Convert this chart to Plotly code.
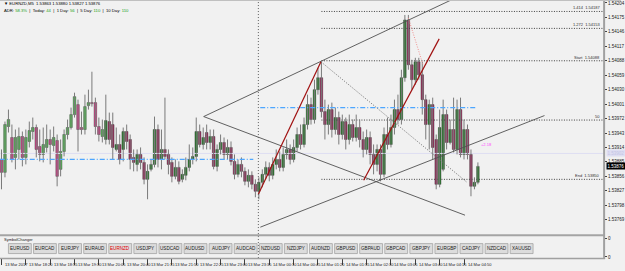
import plotly.graph_objects as go

# ---------------- data (EURNZD, M5) ----------------
O = [1.53890, 1.53864, 1.53956, 1.53934, 1.53894, 1.53910, 1.53936, 1.53894, 1.53926, 1.53946,
     1.53954, 1.53916, 1.53900, 1.53914, 1.53930, 1.53918, 1.53928, 1.53870, 1.53906, 1.53940,
     1.53954, 1.53980, 1.54000, 1.53954, 1.53950, 1.53998, 1.54004, 1.54004, 1.53956, 1.53936,
     1.53930, 1.53966, 1.53960, 1.53910, 1.53920, 1.53910, 1.53946, 1.53930, 1.53894, 1.53880,
     1.53900, 1.53884, 1.53850, 1.53870, 1.53880, 1.53950, 1.53890, 1.53910, 1.53900, 1.53884,
     1.53856, 1.53874, 1.53850, 1.53858, 1.53874, 1.53890, 1.53896, 1.53946, 1.53920, 1.53944,
     1.53924, 1.53936, 1.53876, 1.53910, 1.53924, 1.53900, 1.53914, 1.53886, 1.53860, 1.53880,
     1.53866, 1.53846, 1.53858, 1.53840, 1.53826, 1.53844, 1.53860, 1.53874, 1.53858, 1.53880,
     1.53890, 1.53874, 1.53900, 1.53910, 1.53890, 1.53914, 1.53940, 1.53920, 1.53960, 1.54000,
     1.53970, 1.54030, 1.54054, 1.53986, 1.53960, 1.53990, 1.53950, 1.53974, 1.53940, 1.53966,
     1.53930, 1.53960, 1.53934, 1.53954, 1.53930, 1.53910, 1.53934, 1.53900, 1.53880, 1.53910,
     1.53860, 1.53940, 1.53920, 1.53954, 1.53990, 1.53970, 1.54054, 1.54170, 1.54080, 1.54050,
     1.54086, 1.54060, 1.54010, 1.53960, 1.54000, 1.53930, 1.53840, 1.53870, 1.53980, 1.53924,
     1.53950, 1.53910, 1.53990, 1.53900, 1.53950, 1.53900, 1.53836, 1.53844]
H = [1.53910, 1.53966, 1.53990, 1.53960, 1.53950, 1.53954, 1.53946, 1.53950, 1.53966, 1.53974,
     1.53960, 1.53950, 1.53954, 1.53960, 1.53950, 1.53956, 1.53940, 1.53930, 1.53950, 1.53970,
     1.53994, 1.54024, 1.54010, 1.53986, 1.54020, 1.54030, 1.54066, 1.54014, 1.53974, 1.53970,
     1.54020, 1.53984, 1.53984, 1.53954, 1.53940, 1.53954, 1.53960, 1.53940, 1.53910, 1.53910,
     1.53914, 1.53894, 1.53880, 1.53890, 1.53976, 1.53960, 1.53950, 1.54014, 1.53910, 1.53894,
     1.53890, 1.53886, 1.53870, 1.53894, 1.53920, 1.53914, 1.53974, 1.53960, 1.53954, 1.53960,
     1.53950, 1.53950, 1.53920, 1.53940, 1.53934, 1.53930, 1.53926, 1.53900, 1.53890, 1.53894,
     1.53874, 1.53870, 1.53866, 1.53850, 1.53854, 1.53870, 1.53886, 1.53884, 1.53894, 1.53910,
     1.53906, 1.53914, 1.53930, 1.53920, 1.53930, 1.53954, 1.53960, 1.53974, 1.54020, 1.54014,
     1.54050, 1.54074, 1.54086, 1.54010, 1.54000, 1.54004, 1.53994, 1.53986, 1.53980, 1.53974,
     1.53980, 1.53970, 1.53980, 1.53970, 1.53946, 1.53950, 1.53946, 1.53920, 1.53920, 1.53920,
     1.53954, 1.53974, 1.53980, 1.54010, 1.54020, 1.54070, 1.54180, 1.54180, 1.54090, 1.54094,
     1.54094, 1.54086, 1.54020, 1.54010, 1.54014, 1.53940, 1.53990, 1.54010, 1.53990, 1.53970,
     1.54014, 1.54010, 1.54014, 1.53970, 1.53960, 1.53910, 1.53854, 1.53884]
L = [1.53830, 1.53854, 1.53944, 1.53884, 1.53870, 1.53890, 1.53876, 1.53880, 1.53914, 1.53930,
     1.53894, 1.53886, 1.53884, 1.53904, 1.53880, 1.53906, 1.53836, 1.53856, 1.53896, 1.53930,
     1.53950, 1.53974, 1.53906, 1.53940, 1.53940, 1.53990, 1.53996, 1.53940, 1.53926, 1.53924,
     1.53920, 1.53920, 1.53890, 1.53906, 1.53880, 1.53886, 1.53910, 1.53870, 1.53866, 1.53866,
     1.53870, 1.53840, 1.53810, 1.53866, 1.53874, 1.53874, 1.53870, 1.53890, 1.53860, 1.53844,
     1.53850, 1.53840, 1.53844, 1.53848, 1.53866, 1.53880, 1.53886, 1.53914, 1.53910, 1.53910,
     1.53910, 1.53870, 1.53866, 1.53900, 1.53890, 1.53890, 1.53878, 1.53850, 1.53854, 1.53854,
     1.53838, 1.53834, 1.53830, 1.53814, 1.53810, 1.53834, 1.53850, 1.53846, 1.53850, 1.53870,
     1.53866, 1.53866, 1.53890, 1.53880, 1.53884, 1.53906, 1.53910, 1.53914, 1.53950, 1.53960,
     1.53962, 1.54020, 1.53974, 1.53930, 1.53940, 1.53934, 1.53940, 1.53920, 1.53930, 1.53910,
     1.53920, 1.53926, 1.53926, 1.53914, 1.53894, 1.53900, 1.53880, 1.53860, 1.53866, 1.53846,
     1.53854, 1.53910, 1.53914, 1.53940, 1.53960, 1.53960, 1.54046, 1.54070, 1.54030, 1.54040,
     1.54050, 1.53980, 1.53930, 1.53910, 1.53890, 1.53830, 1.53834, 1.53866, 1.53910, 1.53920,
     1.53904, 1.53900, 1.53894, 1.53890, 1.53890, 1.53816, 1.53830, 1.53840]
C = [1.53864, 1.53960, 1.53970, 1.53890, 1.53934, 1.53936, 1.53894, 1.53934, 1.53948, 1.53954,
     1.53910, 1.53900, 1.53920, 1.53930, 1.53920, 1.53934, 1.53856, 1.53906, 1.53940, 1.53954,
     1.53980, 1.54016, 1.53950, 1.53950, 1.53996, 1.54004, 1.54002, 1.53956, 1.53940, 1.53950,
     1.53968, 1.53930, 1.53914, 1.53920, 1.53890, 1.53946, 1.53926, 1.53890, 1.53884, 1.53900,
     1.53884, 1.53850, 1.53866, 1.53880, 1.53950, 1.53890, 1.53910, 1.53896, 1.53880, 1.53856,
     1.53874, 1.53846, 1.53860, 1.53874, 1.53890, 1.53896, 1.53946, 1.53920, 1.53934, 1.53924,
     1.53936, 1.53876, 1.53910, 1.53924, 1.53900, 1.53914, 1.53886, 1.53860, 1.53880, 1.53866,
     1.53846, 1.53858, 1.53840, 1.53826, 1.53844, 1.53860, 1.53874, 1.53858, 1.53880, 1.53890,
     1.53874, 1.53900, 1.53910, 1.53890, 1.53914, 1.53940, 1.53920, 1.53960, 1.54000, 1.53970,
     1.54030, 1.54054, 1.53986, 1.53960, 1.53990, 1.53950, 1.53974, 1.53940, 1.53966, 1.53930,
     1.53960, 1.53934, 1.53954, 1.53930, 1.53910, 1.53934, 1.53900, 1.53880, 1.53910, 1.53860,
     1.53940, 1.53920, 1.53954, 1.53990, 1.53970, 1.54054, 1.54170, 1.54080, 1.54050, 1.54086,
     1.54060, 1.54010, 1.53960, 1.54000, 1.53914, 1.53840, 1.53954, 1.53980, 1.53924, 1.53950,
     1.53910, 1.53990, 1.53900, 1.53950, 1.53900, 1.53836, 1.53844, 1.53876]

PRICE_LABELS = [1.54204, 1.54175, 1.54146, 1.54117, 1.54088, 1.54059, 1.54030, 1.54001,
                1.53972, 1.53943, 1.53914, 1.53885, 1.53856, 1.53827, 1.53798, 1.53769]
TIME_TICK_BARS = [0, 7, 14, 21, 28, 35, 42, 49, 56, 63, 70, 77, 84, 91, 98, 105, 112, 119, 126, 133]
TIME_LABELS = ["13 Mar 2017", "13 Mar 18:20", "13 Mar 18:55", "13 Mar 19:30", "13 Mar 20:05",
               "13 Mar 20:40", "13 Mar 21:15", "13 Mar 21:50", "13 Mar 22:25", "13 Mar 23:00",
               "13 Mar 23:35", "14 Mar 00:10", "14 Mar 00:45", "14 Mar 01:20", "14 Mar 01:55",
               "14 Mar 02:30", "14 Mar 03:05", "14 Mar 03:40", "14 Mar 04:15", "14 Mar 04:50"]
SYMBOLS = ["EURUSD", "EURCAD", "EURJPY", "EURAUD", "EURNZD", "USDJPY", "USDCAD", "AUDUSD",
           "AUDJPY", "AUDCAD", "NZDUSD", "NZDJPY", "AUDNZD", "GBPUSD", "GBPAUD", "GBPCAD",
           "GBPJPY", "EURGBP", "CADJPY", "NZDCAD", "XAUUSD"]
ACTIVE_SYMBOL = "EURNZD"

# fibonacci levels (label, price)
FIB_NAMES = ["1.414", "1.272", "Start", "50", "End"]
FIB_PRICES = [1.54187, 1.54153, 1.54088, 1.53969, 1.53850]
FIB_FROM_BAR = 92

# drawn objects: (bar index pairs, price pairs)
CHANNEL_UP_X, CHANNEL_UP_Y = [58.14, 133.86], [1.53976, 1.54225]
CHANNEL_DN_X, CHANNEL_DN_Y = [58.14, 133.29], [1.53976, 1.53778]
RISE_X, RISE_Y = [74.43, 156.14], [1.53754, 1.53978]
RED1_X, RED1_Y = [73.86, 91.86], [1.53820, 1.54086]
RED2_X, RED2_Y = [104.14, 125.86], [1.53848, 1.54132]
DOT_X, DOT_Y = [91.86, 133.86], [1.54086, 1.53844]
PINK_X, PINK_Y = [117.0, 121.3], [1.54174, 1.54078]
BLUE1_X, BLUE1_PRICE = [-0.5, 72.4], 1.53890
BLUE2_X, BLUE2_PRICE = [74.4, 136.7], 1.53994
ASK_PRICE = 1.53902
DAY_SEP_BAR = 73.86
DIFF_TEXT, DIFF_BAR, DIFF_PRICE = "+2.18", 139.6, 1.53919

# ---------------- geometry helpers ----------------
W, HT = 625, 271
PLOT_R, MAIN_B, PANEL_T, PANEL_B = 608, 235, 237, 259
def fx(p): return p / W
def fy(p): return 1 - p / HT
BAR_PX, X0_PX = 3.5, 1.5
x_lo = (0 - X0_PX) / BAR_PX
x_hi = (PLOT_R - X0_PX) / BAR_PX
y_lo, y_hi = 1.53740, 1.54210
FONT = "Liberation Sans"
DOTS = "1px,1.5px"
BLUE = "#4da6ff"

fig = go.Figure()
n = len(C)
idx = list(range(n))

# faint ask line
fig.add_trace(go.Scatter(x=[x_lo, x_hi], y=[ASK_PRICE, ASK_PRICE], mode="lines",
                         line=dict(color="#dedef2", width=1), hoverinfo="skip"))
# fib dotted lines
for p in FIB_PRICES:
    fig.add_trace(go.Scatter(x=[FIB_FROM_BAR, x_hi], y=[p, p], mode="lines",
                             line=dict(color="#404040", width=1, dash=DOTS), hoverinfo="skip"))

# wicks
wx, wy = [], []
for i in idx:
    wx += [i, i, None]
    wy += [L[i], H[i], None]
fig.add_trace(go.Scatter(x=wx, y=wy, mode="lines", line=dict(color="#7a7a7a", width=1),
                         hoverinfo="skip"))
# bodies
base = [min(o, c) for o, c in zip(O, C)]
hgt = [max(abs(c - o), 0.000012) for o, c in zip(O, C)]
fill, edge = [], []
for i in idx:
    bull = C[i] >= O[i]
    if i < 30:
        fill.append("#45cf45" if bull else "#ee2f8e")
    else:
        fill.append("#0d7a10" if bull else "#a3104f")
    edge.append("#3c3c3c")
fig.add_trace(go.Bar(x=idx, y=hgt, base=base, width=0.72,
                     marker=dict(color=fill, line=dict(color=edge, width=0.5)), hoverinfo="skip"))

# blue dash-dot lines (drawn above candles)
fig.add_trace(go.Scatter(x=BLUE1_X, y=[BLUE1_PRICE] * 2, mode="lines",
                         line=dict(color=BLUE, width=1.2, dash="5px,2px,1px,2px"), hoverinfo="skip"))
fig.add_trace(go.Scatter(x=BLUE2_X, y=[BLUE2_PRICE] * 2, mode="lines",
                         line=dict(color=BLUE, width=1.2, dash="5px,2px,1px,2px"), hoverinfo="skip"))

# trend lines
for xs, ys, col, dash, wdt in [
    (CHANNEL_UP_X, CHANNEL_UP_Y, "#505050", "solid", 0.9),
    (CHANNEL_DN_X, CHANNEL_DN_Y, "#505050", "solid", 0.9),
    (RISE_X, RISE_Y, "#505050", "solid", 0.9),
    (RED1_X, RED1_Y, "#a01010", "solid", 1.2),
    (RED2_X, RED2_Y, "#a01010", "solid", 1.2),
    (DOT_X, DOT_Y, "#707070", DOTS, 1),
    (PINK_X, PINK_Y, "#f09090", DOTS, 1),
]:
    fig.add_trace(go.Scatter(x=xs, y=ys, mode="lines", line=dict(color=col, width=wdt, dash=dash),
                             hoverinfo="skip"))

# panel dummy trace for axes
fig.add_trace(go.Scatter(x=[x_lo], y=[0.5], xaxis="x2", yaxis="y2", mode="markers",
                         marker=dict(opacity=0), hoverinfo="skip"))

shapes = []
# period separator
shapes.append(dict(type="line", xref="x", yref="paper", x0=DAY_SEP_BAR, x1=DAY_SEP_BAR,
                   y0=fy(PANEL_B), y1=1, line=dict(color="#606060", width=1, dash="1px,2px")))
# window separator
shapes.append(dict(type="rect", xref="paper", yref="paper", x0=0, x1=fx(PLOT_R),
                   y0=fy(PANEL_T), y1=fy(MAIN_B), fillcolor="#a4a4a4", line=dict(width=0)))
# panel bottom border
shapes.append(dict(type="line", xref="paper", yref="paper", x0=0, x1=fx(PLOT_R + 1),
                   y0=fy(PANEL_B + 0.5), y1=fy(PANEL_B + 0.5), line=dict(color="#a0a0a0", width=1.5)))
# price scale bar
shapes.append(dict(type="line", xref="paper", yref="paper", x0=fx(PLOT_R), x1=fx(PLOT_R),
                   y0=fy(PANEL_B + 1), y1=1, line=dict(color="#a0a0a0", width=2)))
# top border
shapes.append(dict(type="line", xref="paper", yref="paper", x0=0, x1=1, y0=fy(0.5), y1=fy(0.5),
                   line=dict(color="#c0c0c0", width=1)))

ann = []
# buttons
for k, s in enumerate(SYMBOLS):
    x0 = 8.5 + 25.25 * k
    shapes.append(dict(type="rect", xref="paper", yref="paper", x0=fx(x0), x1=fx(x0 + 23),
                       y0=fy(254.5), y1=fy(244.5), fillcolor="#dcdcdc",
                       line=dict(color="#9c9c9c", width=0.7)))
    ann.append(dict(xref="paper", yref="paper", x=fx(x0 + 11.5), y=fy(249.5), text=s, showarrow=False,
                    font=dict(family=FONT, size=4.6, color="#e00000" if s == ACTIVE_SYMBOL else "#202020"),
                    xanchor="center", yanchor="middle"))
ann.append(dict(xref="paper", yref="paper", x=fx(2), y=fy(240.5), text="SymbolChanger", showarrow=False,
                font=dict(family=FONT, size=4, color="#202020"), xanchor="left", yanchor="middle"))

# time labels
for b, t in zip(TIME_TICK_BARS, TIME_LABELS):
    ann.append(dict(xref="x2", yref="paper", x=b, y=fy(265), text=t, showarrow=False, xshift=1.5,
                    font=dict(family=FONT, size=4, color="#202020"), xanchor="left", yanchor="middle"))

# fib labels
for nm, p in zip(FIB_NAMES, FIB_PRICES):
    txt = nm if nm == "50" else f"{nm}  {p:.5f}"
    ann.append(dict(xref="paper", yref="y", x=fx(606), y=p, text=txt, showarrow=False,
                    font=dict(family=FONT, size=4, color="#303030"), xanchor="right", yanchor="bottom",
                    yshift=-1))

# header
ann.append(dict(xref="paper", yref="paper", x=fx(2), y=fy(4), showarrow=False, xanchor="left",
                yanchor="middle", font=dict(family=FONT, size=4.2, color="#000000"),
                text=f"▼ EURNZD,M5  1.53863 1.53880 1.53827 {C[-1]:.5f}"))
g = "#18a018"
ann.append(dict(xref="paper", yref="paper", x=fx(2), y=fy(10.5), showarrow=False, xanchor="left",
                yanchor="middle", font=dict(family=FONT, size=4.2, color="#000000"),
                text=(f"ADR: <span style='color:{g}'>58.3%</span>  |  Today: <span style='color:{g}'>44</span>"
                      f"  |  1 Day: <span style='color:{g}'>56</span>  |  5 Day: <span style='color:{g}'>110</span>"
                      f"  |  10 Day: <span style='color:{g}'>110</span>")))
# diff text
ann.append(dict(xref="x", yref="y", x=DIFF_BAR, y=DIFF_PRICE, text=DIFF_TEXT, showarrow=False,
                font=dict(family=FONT, size=4, color="#ff40ff"), xanchor="center", yanchor="middle"))
# price boxes
ann.append(dict(xref="paper", yref="y", x=fx(609.5), y=ASK_PRICE, text=f"{ASK_PRICE:.5f}", showarrow=False,
                bgcolor="#dedef2", font=dict(family=FONT, size=4.5, color="#c4c4e4"), xanchor="left",
                yanchor="middle", borderpad=0.5))
ann.append(dict(xref="paper", yref="y", x=fx(609.5), y=C[-1], text=f"{C[-1]:.5f}", showarrow=False,
                bgcolor="#000000", font=dict(family=FONT, size=4.5, color="#ffffff"), xanchor="left",
                yanchor="middle", borderpad=0.5))

fig.update_layout(
    width=W, height=HT, margin=dict(l=0, r=0, t=0, b=0),
    paper_bgcolor="#f1f1f1", plot_bgcolor="#f1f1f1",
    showlegend=False, barmode="overlay",
    xaxis=dict(domain=[0, fx(PLOT_R)], range=[x_lo, x_hi], showgrid=False, zeroline=False,
               showticklabels=False, ticks="", anchor="y"),
    yaxis=dict(domain=[fy(MAIN_B), 1], range=[y_lo, y_hi], side="right", anchor="x",
               showgrid=False, zeroline=False, ticks="outside", ticklen=2, tickcolor="#404040",
               tickvals=PRICE_LABELS, ticktext=[f"{v:.5f}" for v in PRICE_LABELS],
               tickfont=dict(family=FONT, size=4.5, color="#202020")),
    xaxis2=dict(domain=[0, fx(PLOT_R)], range=[x_lo, x_hi], anchor="y2", showgrid=False,
                zeroline=False, showticklabels=False, ticks="outside", ticklen=6,
                tickcolor="#404040", tickvals=TIME_TICK_BARS),
    yaxis2=dict(domain=[fy(PANEL_B), fy(PANEL_T)], range=[0, 1], side="right", anchor="x2",
                showgrid=False, zeroline=False, ticks="outside", ticklen=2, tickcolor="#404040",
                tickvals=[0.05, 0.9], ticktext=["0", "0"],
                tickfont=dict(family=FONT, size=4.5, color="#202020")),
    shapes=shapes, annotations=ann,
)
fig.write_html("out.html")
